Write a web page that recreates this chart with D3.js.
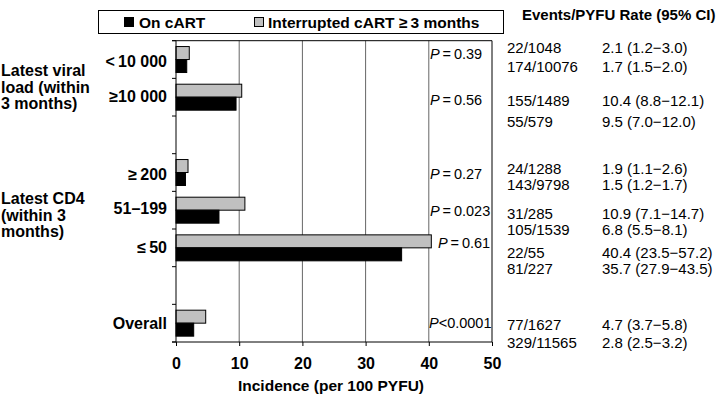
<!DOCTYPE html>
<html><head><meta charset="utf-8">
<script src="https://cdn.jsdelivr.net/npm/d3@7"></script>
<style>body{margin:0;background:#fff}svg{display:block;font-family:"Liberation Sans",Arial,sans-serif}</style>
</head><body><svg id="c" width="720" height="396"></svg>
<script>
const categories = ["<\u200910 000", "\u226510 000", "gap1", "\u2265\u2009200", "51\u2013199", "\u2264\u200950", "gap2", "Overall"];
const seriesNames = ["On cART", "Interrupted cART \u2265\u20093 months"];
const interrupted = [2.1, 10.4, null, 1.9, 10.9, 40.4, null, 4.7];
const onCart = [1.7, 9.5, null, 1.5, 6.8, 35.7, null, 2.8];
const pValues = ["0.39", "0.56", null, "0.27", "0.023", "0.61", null, "0.0001"];
const pOps = ["=", "=", null, "=", "=", "=", null, "<"];
const eventsInt = ["22/1048", "155/1489", null, "24/1288", "31/285", "22/55", null, "77/1627"];
const eventsOn = ["174/10076", "55/579", null, "143/9798", "105/1539", "81/227", null, "329/11565"];
const rateInt = ["2.1 (1.2\u22123.0)", "10.4 (8.8\u221212.1)", null, "1.9 (1.1\u22122.6)", "10.9 (7.1\u221214.7)", "40.4 (23.5\u221257.2)", null, "4.7 (3.7\u22125.8)"];
const rateOn = ["1.7 (1.5\u22122.0)", "9.5 (7.0\u221212.0)", null, "1.5 (1.2\u22121.7)", "6.8 (5.5\u22128.1)", "35.7 (27.9\u221243.5)", null, "2.8 (2.5\u22123.2)"];
const xTicks = [0, 10, 20, 30, 40, 50];
const groupLabels = [["Latest viral", "load (within", "3 months)"], ["Latest CD4", "(within 3", "months)"]];

const svg = d3.select("#c");
const L = 176, R = 492, T = 40.7, B = 342;
const x = d3.scaleLinear().domain([0, 50]).range([L, R]);
const y = d3.scaleBand().domain(categories).range([T, B]).padding(0);
const ySub = d3.scaleBand().domain(["int", "on"]).range([0, y.bandwidth()]).paddingInner(0).paddingOuter(0.45);

// gridlines
svg.append("g").selectAll("line").data([10, 20, 30, 40]).join("line")
  .attr("x1", d => x(d)).attr("x2", d => x(d)).attr("y1", T).attr("y2", B)
  .attr("stroke", "#666").attr("stroke-width", 1);
// right & top border
svg.append("line").attr("x1", x(50)).attr("x2", x(50)).attr("y1", T).attr("y2", B).attr("stroke", "#000");
svg.append("line").attr("x1", L - 4).attr("x2", x(50)).attr("y1", T).attr("y2", T).attr("stroke", "#000");

// bars
const rows = categories.map((c, i) => ({c, i})).filter(d => interrupted[d.i] != null);
svg.append("g").selectAll("rect").data(rows).join("rect")
  .attr("x", x(0)).attr("y", d => y(d.c) + ySub("int"))
  .attr("width", d => x(interrupted[d.i]) - x(0)).attr("height", ySub.bandwidth())
  .attr("fill", "#c0c0c0").attr("stroke", "#000").attr("stroke-width", 1);
svg.append("g").selectAll("rect").data(rows).join("rect")
  .attr("x", x(0)).attr("y", d => y(d.c) + ySub("on"))
  .attr("width", d => x(onCart[d.i]) - x(0)).attr("height", ySub.bandwidth())
  .attr("fill", "#000").attr("stroke", "#000").attr("stroke-width", 1);

// x axis
const xa = svg.append("g").attr("transform", `translate(0,${B})`)
  .call(d3.axisBottom(x).tickValues(xTicks).tickSize(4).tickSizeOuter(0).tickPadding(12));
xa.select(".domain").remove();
xa.append("line").attr("x1", L - 4).attr("x2", R).attr("stroke", "#000");
xa.selectAll("text").attr("font-size", 16).attr("font-weight", "bold").attr("fill", "#000")
  .attr("font-family", "Liberation Sans, Arial, sans-serif");
svg.append("text").attr("x", 331).attr("y", 391).attr("text-anchor", "middle")
  .attr("font-size", 15.5).attr("font-weight", "bold").text("Incidence (per 100 PYFU)");

// y axis line and boundary ticks
svg.append("line").attr("x1", L).attr("x2", L).attr("y1", T).attr("y2", B).attr("stroke", "#000");
const bounds = categories.map(c => y(c)).concat([B]);
svg.append("g").selectAll("line").data(bounds).join("line")
  .attr("x1", L - 4).attr("x2", L).attr("y1", d => d).attr("y2", d => d).attr("stroke", "#000");

// category labels
const labelDy = [1.5, -0.5, 0, 1.5, -1.5, -0.5, 0, 0];
svg.append("g").selectAll("text").data(rows).join("text")
  .attr("x", 167).attr("y", d => y(d.c) + y.bandwidth() / 2 + 5.5 + labelDy[d.i])
  .attr("text-anchor", "end").attr("font-size", 16).attr("font-weight", "bold")
  .text(d => d.c);

// group labels
const groupY = [70, 198];
groupLabels.forEach((lines, g) => {
  lines.forEach((t, k) => {
    svg.append("text").attr("x", 1).attr("y", groupY[g] + 6 + k * 16.5)
      .attr("font-size", 16).attr("font-weight", "bold").text(t);
  });
});

// p-values
const pXY = [[430, 54], [430, 100], null, [430, 174], [430, 211], [438, 243], null, [429, 323]];
rows.forEach(d => {
  const p = pXY[d.i];
  const t = svg.append("text").attr("x", p[0]).attr("y", p[1] + 5).attr("font-size", 14.5);
  t.append("tspan").attr("font-style", "italic").text("P");
  t.append("tspan").text(pOps[d.i] === "=" ? "\u2009=\u20090." + pValues[d.i].slice(2) : "<" + pValues[d.i]);
});

// events / rate columns
const evY = [[47, 66], [100, 121], null, [168, 184], [213, 229], [252, 268.5], null, [324, 342]];
rows.forEach(d => {
  const yy = evY[d.i];
  svg.append("text").attr("x", 507).attr("y", yy[0] + 5.5).attr("font-size", 15).text(eventsInt[d.i]);
  svg.append("text").attr("x", 507).attr("y", yy[1] + 5.5).attr("font-size", 15).text(eventsOn[d.i]);
  svg.append("text").attr("x", 602).attr("y", yy[0] + 5.5).attr("font-size", 15).text(rateInt[d.i]);
  svg.append("text").attr("x", 602).attr("y", yy[1] + 5.5).attr("font-size", 15).text(rateOn[d.i]);
});
svg.append("text").attr("x", 522).attr("y", 20).attr("font-size", 15).attr("font-weight", "bold")
  .text("Events/PYFU Rate (95% CI)");

// legend
svg.append("rect").attr("x", 98.5).attr("y", 10.5).attr("width", 405).attr("height", 23)
  .attr("fill", "#fff").attr("stroke", "#000");
const legX = [124, 254], legTx = [139, 268], legFill = ["#000", "#c0c0c0"];
seriesNames.forEach((s, i) => {
  svg.append("rect").attr("x", legX[i] + 0.5).attr("y", 17.5).attr("width", 9).attr("height", 9)
    .attr("fill", legFill[i]).attr("stroke", "#000");
  svg.append("text").attr("x", legTx[i]).attr("y", 27.5).attr("font-size", 15.5).attr("font-weight", "bold").text(s);
});
</script></body></html>
